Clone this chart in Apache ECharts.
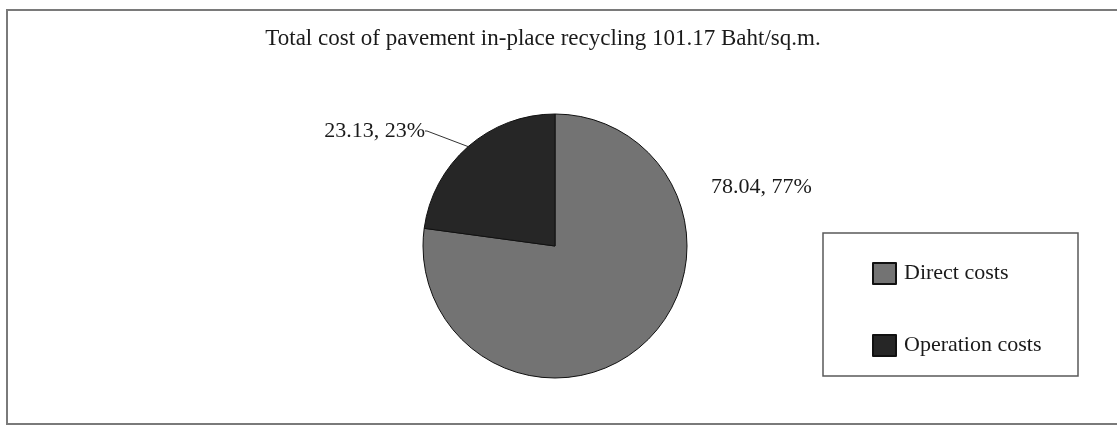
<!DOCTYPE html>
<html>
<head>
<meta charset="utf-8">
<script src="https://cdn.jsdelivr.net/npm/echarts@6/dist/echarts.min.js"></script>
<style>
  html, body { margin: 0; padding: 0; background: #ffffff; }
  #chart { width: 1117px; height: 426px; }
</style>
</head>
<body>
<div id="chart"></div>
<script>
// Cost breakdown (Baht per square metre)
const titleText = 'Total cost of pavement in-place recycling 101.17 Baht/sq.m.';
const categories = ['Direct costs', 'Operation costs'];
const costs = [78.04, 23.13];
const percents = [77, 23];
const sliceColors = ['#737373', '#262626'];

const FONT = '"Liberation Serif", "Times New Roman", serif';

// Label anchor positions (pixels) for each slice label
const labelPos = [
  { x: 711, y: 187, align: 'left' },
  { x: 425, y: 131, align: 'right' }
];

const chart = echarts.init(document.getElementById('chart'), null, { renderer: 'canvas' });

chart.setOption({
  backgroundColor: '#ffffff',
  animation: false,
  title: {
    text: titleText,
    left: 538,
    top: 22,
    textAlign: 'center',
    textStyle: { fontFamily: FONT, fontSize: 23, fontWeight: 'normal', color: '#1a1a1a' }
  },
  legend: {
    orient: 'vertical',
    left: 867,
    top: 257,
    itemWidth: 23,
    itemHeight: 21,
    itemGap: 49,
    icon: 'rect',
    textStyle: { fontFamily: FONT, fontSize: 22, color: '#1a1a1a', padding: [4, 0, 0, 3] },
    data: categories
  },
  graphic: [
    {
      type: 'rect',
      shape: { x: 7, y: 10, width: 1130, height: 414 },
      style: { fill: 'none', stroke: '#7a7a7a', lineWidth: 2 },
      silent: true
    },
    {
      type: 'rect',
      shape: { x: 823, y: 233, width: 255, height: 143 },
      style: { fill: 'none', stroke: '#5a5a5a', lineWidth: 1.5 },
      silent: true
    }
  ],
  series: [{
    type: 'pie',
    center: [555, 246],
    radius: 132,
    startAngle: 90,
    clockwise: true,
    itemStyle: { borderColor: '#111', borderWidth: 1 },
    label: {
      show: true,
      position: 'outside',
      fontFamily: FONT,
      fontSize: 22,
      color: '#1a1a1a',
      formatter: p => costs[p.dataIndex].toFixed(2) + ', ' + percents[p.dataIndex] + '%'
    },
    labelLine: { show: true, length: 4, length2: 2, lineStyle: { color: '#333', width: 1 } },
    labelLayout: p => ({
      x: labelPos[p.dataIndex].x,
      y: labelPos[p.dataIndex].y,
      align: labelPos[p.dataIndex].align,
      verticalAlign: 'middle'
    }),
    data: categories.map((name, i) => ({
      name,
      value: costs[i],
      itemStyle: { color: sliceColors[i] },
      labelLine: { show: i === 1 }
    }))
  }]
});
</script>
</body>
</html>
